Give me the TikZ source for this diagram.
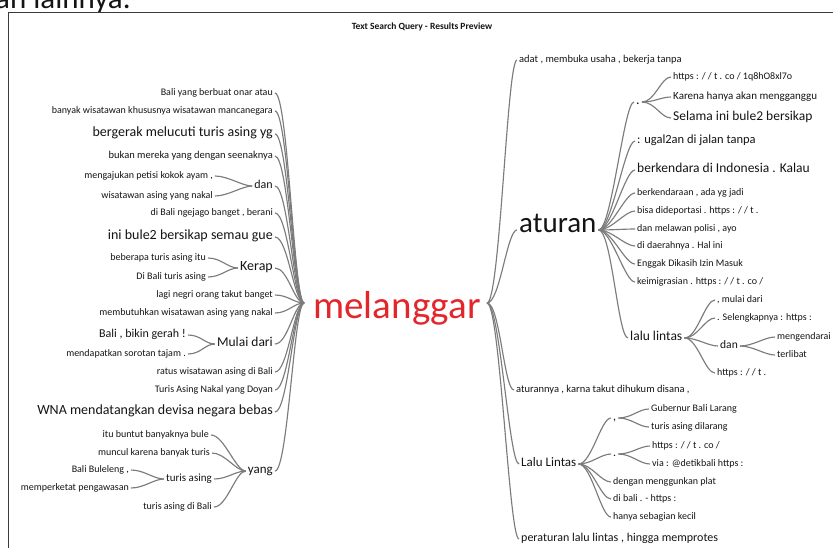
\documentclass[tikz,border=0pt]{standalone}
\usepackage{fontspec}
\setmainfont{Carlito}
\definecolor{lg}{HTML}{7C7C7C}
\definecolor{mred}{HTML}{E3262B}
\definecolor{frm}{HTML}{3A3A3A}
\definecolor{tx}{HTML}{141414}
\newcommand\fs[1]{\fontsize{#1}{#1}\selectfont}
\tikzset{
 txt/.style={inner xsep=2pt, inner ysep=0pt, text height=0.68em, text depth=0.18em, font=\fs{10}, text=tx},
 le/.style={txt, anchor=east},
 ri/.style={txt, anchor=west},
 cn/.style={draw=lg, line width=1.15pt, out=0, in=180, out distance=13pt, in distance=10pt},
}
\begin{document}
\begin{tikzpicture}[x=1pt,y=-1pt]
\useasboundingbox (0,0) rectangle (833,547);
\clip (0,0) rectangle (833,547);
\node[anchor=base west, inner sep=0pt, font=\fs{31}, text=tx] (top) at (-5,8.5) {an lainnya.};
\draw[frm, line width=1.3pt] (8.3,552) -- (8.3,12.6) -- (840,12.6);
\node[font=\bfseries\fs{9.5}, text=tx] (title) at (422,27) {Text Search Query - Results Preview};
\node[anchor=base, inner sep=0pt, font=\fs{39}, text=mred] (mel) at (397,318) {melanggar};
\coordinate (Lhub) at (304,303);
\coordinate (Rhub) at (487,303);
% ---------- left ----------
\node[le] (L1) at (275,93) {Bali yang berbuat onar atau};
\node[le] (L2) at (275,111) {banyak wisatawan khususnya wisatawan mancanegara};
\node[le,font=\fs{14}] (L3) at (275,134) {bergerak melucuti turis asing yg};
\node[le,font=\fs{10.5}] (L4) at (275,156) {bukan mereka yang dengan seenaknya};
\node[le,font=\fs{12}] (Ldan) at (275,186) {dan};
\node[le] (Ld1) at (215,176) {mengajukan petisi kokok ayam ,};
\node[le] (Ld2) at (215,196) {wisatawan asing yang nakal};
\node[le] (L6) at (275,213) {di Bali ngejago banget , berani};
\node[le,font=\fs{14}] (L7) at (275,237) {ini bule2 bersikap semau gue};
\node[le,font=\fs{14}] (Lk) at (275,268) {Kerap};
\node[le] (Lk1) at (208,258) {beberapa turis asing itu};
\node[le] (Lk2) at (208,277) {Di Bali turis asing};
\node[le] (L9) at (275,295) {lagi negri orang takut banget};
\node[le] (L10) at (275,313) {membutuhkan wisatawan asing yang nakal};
\node[le,font=\fs{13.5}] (Lm) at (275,344) {Mulai dari};
\node[le,font=\fs{12}] (Lm1) at (188,335) {Bali , bikin gerah !};
\node[le] (Lm2) at (188,354) {mendapatkan sorotan tajam .};
\node[le] (L12) at (275,372) {ratus wisatawan asing di Bali};
\node[le] (L13) at (275,390) {Turis Asing Nakal yang Doyan};
\node[le,font=\fs{14}] (L14) at (275,412) {WNA mendatangkan devisa negara bebas};
\node[le,font=\fs{13}] (Ly) at (275,471) {yang};
\node[le] (Ly1) at (211,435) {itu buntut banyaknya bule};
\node[le] (Ly2) at (212,453) {muncul karena banyak turis};
\node[le,font=\fs{11}] (Lyt) at (214,479) {turis asing};
\node[le] (Lyt1) at (131,470) {Bali Buleleng ,};
\node[le] (Lyt2) at (131,488) {memperketat pengawasan};
\node[le] (Ly4) at (214,507) {turis asing di Bali};
\foreach \n in {L1,L2,L3,L4,Ldan,L6,L7,Lk,L9,L10,Lm,L12,L13,L14,Ly}
  \draw[cn] (\n.east) to (Lhub);
\foreach \n in {Ld1,Ld2} \draw[cn] (\n.east) to (Ldan.west);
\foreach \n in {Lk1,Lk2} \draw[cn] (\n.east) to (Lk.west);
\foreach \n in {Lm1,Lm2} \draw[cn] (\n.east) to (Lm.west);
\foreach \n in {Ly1,Ly2,Lyt,Ly4} \draw[cn] (\n.east) to (Ly.west);
\foreach \n in {Lyt1,Lyt2} \draw[cn] (\n.east) to (Lyt.west);
% ---------- right ----------
\node[ri,font=\fs{10.5}] (R1) at (517,60) {adat , membuka usaha , bekerja tanpa};
\node[ri,font=\fs{29}] (Rat) at (517,230) {aturan};
\node[ri,font=\fs{14}] (Rdot) at (634,102) {.};
\node[ri] (Rd1) at (671,77) {https : / / t . co / 1q8hO8xl7o};
\node[ri,font=\fs{11}] (Rd2) at (671,97) {Karena hanya akan mengganggu};
\node[ri,font=\fs{13.5}] (Rd3) at (671,118) {Selama ini bule2 bersikap};
\node[ri,font=\fs{12.5}] (Ra2) at (635,141) {: ugal2an di jalan tanpa};
\node[ri,font=\fs{13.5}] (Ra3) at (635,170) {berkendara di Indonesia . Kalau};
\node[ri] (Ra4) at (635,193) {berkendaraan , ada yg jadi};
\node[ri] (Ra5) at (635,211) {bisa dideportasi . https : / / t .};
\node[ri] (Ra6) at (635,229) {dan melawan polisi , ayo};
\node[ri] (Ra7) at (635,246) {di daerahnya . Hal ini};
\node[ri] (Ra8) at (635,264) {Enggak Dikasih Izin Masuk};
\node[ri] (Ra9) at (635,282) {keimigrasian . https : / / t . co /};
\node[ri,font=\fs{13.5}] (Rll) at (628,338) {lalu lintas};
\node[ri] (Rl1) at (715,300) {, mulai dari};
\node[ri] (Rl2) at (715,318) {. Selengkapnya : https :};
\node[ri,font=\fs{11.5}] (Rldan) at (718,346) {dan};
\node[ri] (Rld1) at (775,337) {mengendarai};
\node[ri] (Rld2) at (775,355) {terlibat};
\node[ri] (Rl4) at (715,373) {https : / / t .};
\node[ri,font=\fs{10.5}] (R3) at (514,390) {aturannya , karna takut dihukum disana ,};
\node[ri,font=\fs{13}] (RLL) at (519,464) {Lalu Lintas};
\node[ri,font=\fs{12}] (Rc) at (611,418) {,};
\node[ri] (Rc1) at (649,409) {Gubernur Bali Larang};
\node[ri] (Rc2) at (649,427) {turis asing dilarang};
\node[ri,font=\fs{12}] (Rp) at (611,454) {.};
\node[ri] (Rp1) at (650,446) {https : / / t . co /};
\node[ri] (Rp2) at (650,464) {via : @detikbali https :};
\node[ri] (RL3) at (611,482) {dengan menggunkan plat};
\node[ri] (RL4) at (611,499) {di bali . - https :};
\node[ri] (RL5) at (611,517) {hanya sebagian kecil};
\node[ri,font=\fs{12}] (R5) at (519,539) {peraturan lalu lintas , hingga memprotes};
\foreach \n in {R1,Rat,R3,RLL,R5} \draw[cn] (Rhub) to (\n.west);
\foreach \n in {Rdot,Ra2,Ra3,Ra4,Ra5,Ra6,Ra7,Ra8,Ra9,Rll} \draw[cn] (Rat.east) to (\n.west);
\foreach \n in {Rd1,Rd2,Rd3} \draw[cn] (Rdot.east) to (\n.west);
\foreach \n in {Rl1,Rl2,Rldan,Rl4} \draw[cn] (Rll.east) to (\n.west);
\foreach \n in {Rld1,Rld2} \draw[cn] (Rldan.east) to (\n.west);
\foreach \n in {Rc,Rp,RL3,RL4,RL5} \draw[cn] (RLL.east) to (\n.west);
\foreach \n in {Rc1,Rc2} \draw[cn] (Rc.east) to (\n.west);
\foreach \n in {Rp1,Rp2} \draw[cn] (Rp.east) to (\n.west);
\end{tikzpicture}
\end{document}
